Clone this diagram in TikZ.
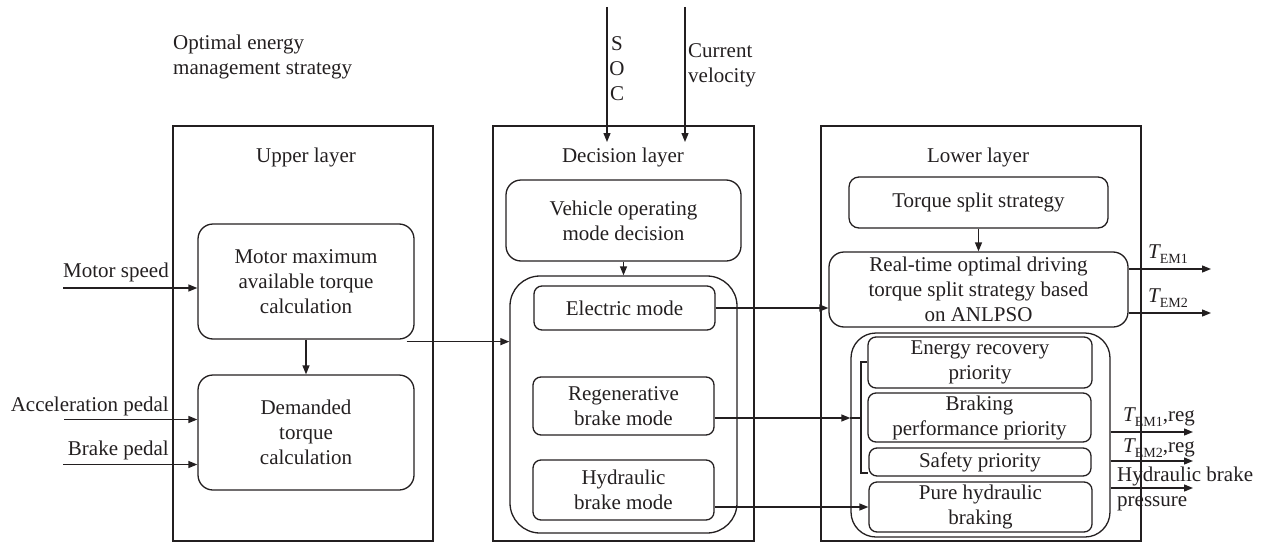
\documentclass[tikz,border=0pt]{standalone}
\usepackage{fontspec}
\setmainfont{Liberation Serif}
\usetikzlibrary{arrows.meta,calc}
\definecolor{ink}{RGB}{35,31,32}
\newcommand{\Tsub}[1]{{\itshape T}\raisebox{-5pt}{\fontsize{14}{14}\selectfont #1}}
\begin{document}
\begin{tikzpicture}[x=1pt,y=-1pt,
  font=\fontsize{21}{25}\selectfont,
  frame/.style={draw=ink,line width=1.3pt,inner sep=0pt},
  rbox/.style={draw=ink,line width=1.3pt,rounded corners=#1,align=center,inner sep=0pt,text=ink},
  wire/.style={draw=ink,line width=1.3pt},
  arr/.style={draw=ink,line width=1.3pt,-{Triangle[length=9pt,width=7pt]}},
  lbl/.style={text=ink,inner sep=0pt}]
\useasboundingbox (0,0) rectangle (1265,543);

% title (multi-line nodes sit on the baseline of their last line)
\node[lbl,anchor=base west,align=left] (title) at (173,74.5) {Optimal energy\\management strategy};

% ---- upper layer ----
\node[frame,minimum width=260pt,minimum height=415pt] (upper) at (303,333.5) {};
\node[lbl] (upperlbl) at (306,157) {Upper layer};
\node[rbox=15pt,minimum width=216pt,minimum height=115pt] (motor) at (306,281.5)
  {Motor maximum\\available torque\\calculation};
\node[rbox=15pt,minimum width=216pt,minimum height=115pt] (demand) at (306,432.5)
  {Demanded\\torque\\calculation};

% inputs of the upper layer
\coordinate (ms) at (63,288);
\coordinate (ap) at (64,419.5);
\coordinate (bp) at (63,464.5);
\node[lbl,anchor=base east] (mslbl) at (169,277) {Motor speed};
\node[lbl,anchor=base east] (aplbl) at (169,411) {Acceleration pedal};
\node[lbl,anchor=base east] (bplbl) at (169,455) {Brake pedal};
\draw[arr] (ms) -- (ms -| motor.west);
\draw[arr] (ap) -- (ap -| demand.west);
\draw[arr] (bp) -- (bp -| demand.west);
\draw[arr] (motor.south) -- (demand.north);

% ---- decision layer ----
\node[frame,minimum width=261pt,minimum height=415pt] (decision) at (623.5,333.5) {};
\node[lbl] (decisionlbl) at (623,157) {Decision layer};
\node[rbox=15pt,minimum width=235pt,minimum height=81pt] (vehicle) at (623.5,220.5)
  {Vehicle operating\\mode decision};
\node[rbox=30pt,minimum width=227pt,minimum height=257pt] (modes) at (623.5,404.5) {};
\node[rbox=8pt,minimum width=181pt,minimum height=44pt] (electric) at (624.5,308) {Electric mode};
\node[rbox=8pt,minimum width=181pt,minimum height=58pt] (regen) at (623.5,406) {Regenerative\\brake mode};
\node[rbox=8pt,minimum width=181pt,minimum height=60pt] (hydraulic) at (623.5,490) {Hydraulic\\brake mode};
\draw[arr] (vehicle.south) -- (modes.north);

% measured inputs
\coordinate (socA) at (607,7);
\coordinate (socB) at (607,142);
\coordinate (velA) at (685,7);
\coordinate (velB) at (685,142);
\draw[arr] (socA) -- (socB);
\draw[arr] (velA) -- (velB);
\node[lbl,align=center] (soclbl) at (617,69) {S\\O\\C};
\node[lbl,anchor=base west,align=left] (vellbl) at (688,82) {Current\\velocity};

% upper layer feeds the mode decision
\coordinate (uout) at ([xshift=-8pt,yshift=-2pt]motor.south east);
\draw[arr] (uout) -- (uout -| modes.west);

% ---- lower layer ----
\node[frame,minimum width=320pt,minimum height=415pt] (lower) at (981,333.5) {};
\node[lbl] (lowerlbl) at (978,157) {Lower layer};
\node[rbox=10pt,minimum width=259pt,minimum height=51pt] (torque) at (978.5,202.5) {Torque split strategy};
\node[rbox=15pt,minimum width=299pt,minimum height=75pt] (realtime) at (978.5,289.5)
  {Real-time optimal driving\\torque split strategy based\\on ANLPSO};
\node[rbox=25pt,minimum width=259pt,minimum height=204pt] (prio) at (980.5,435) {};
\node[rbox=8pt,minimum width=224pt,minimum height=51pt] (energy) at (980,362.5) {Energy recovery\\priority};
\node[rbox=8pt,minimum width=223pt,minimum height=49pt] (braking) at (979.5,417.5) {Braking\\performance priority};
\node[rbox=8pt,minimum width=222pt,minimum height=28pt] (safety) at (980,462) {Safety priority};
\node[rbox=8pt,minimum width=223pt,minimum height=50pt] (pure) at (980.5,507) {Pure hydraulic\\braking};
\draw[arr] (torque.south) -- (realtime.north);

% bracket joining the three priorities
\coordinate (brT) at (861,362);
\coordinate (brB) at (861,473);
\draw[wire] (energy.west |- brT) -- (brT) -- (brB) -- (safety.west |- brB);

% modes to the lower layer
\draw[arr] (electric.east) -- (electric.east -| realtime.west);
\coordinate (regout) at ([yshift=-12pt]regen.east);
\draw[arr] (regout) -- (regout -| prio.west);
\draw[wire] (regout -| prio.west) -- (regout -| brT);
\coordinate (hydout) at ([yshift=-17pt]hydraulic.east);
\draw[arr] (hydout) -- (hydout -| pure.west);

% outputs
\coordinate (tem1) at (1211,269);
\coordinate (tem2) at (1211,313);
\draw[arr] (tem1 -| realtime.east) -- (tem1);
\draw[arr] (tem2 -| realtime.east) -- (tem2);
\node[lbl,anchor=base west] (tem1lbl) at (1148,258) {\Tsub{EM1}};
\node[lbl,anchor=base west] (tem2lbl) at (1148,302) {\Tsub{EM2}};

\coordinate (r1) at (1193,432);
\coordinate (r2) at (1193,461);
\coordinate (r3) at (1193,488);
\draw[arr] (r1 -| prio.east) -- (r1);
\draw[arr] (r2 -| prio.east) -- (r2);
\draw[arr] (r3 -| prio.east) -- (r3);
\node[lbl,anchor=base west] (r1lbl) at (1123,421) {\Tsub{EM1},reg};
\node[lbl,anchor=base west] (r2lbl) at (1123,452) {\Tsub{EM2},reg};
\node[lbl,anchor=base west,align=left] (r3lbl) at (1117,506) {Hydraulic brake\\pressure};
\end{tikzpicture}
\end{document}
